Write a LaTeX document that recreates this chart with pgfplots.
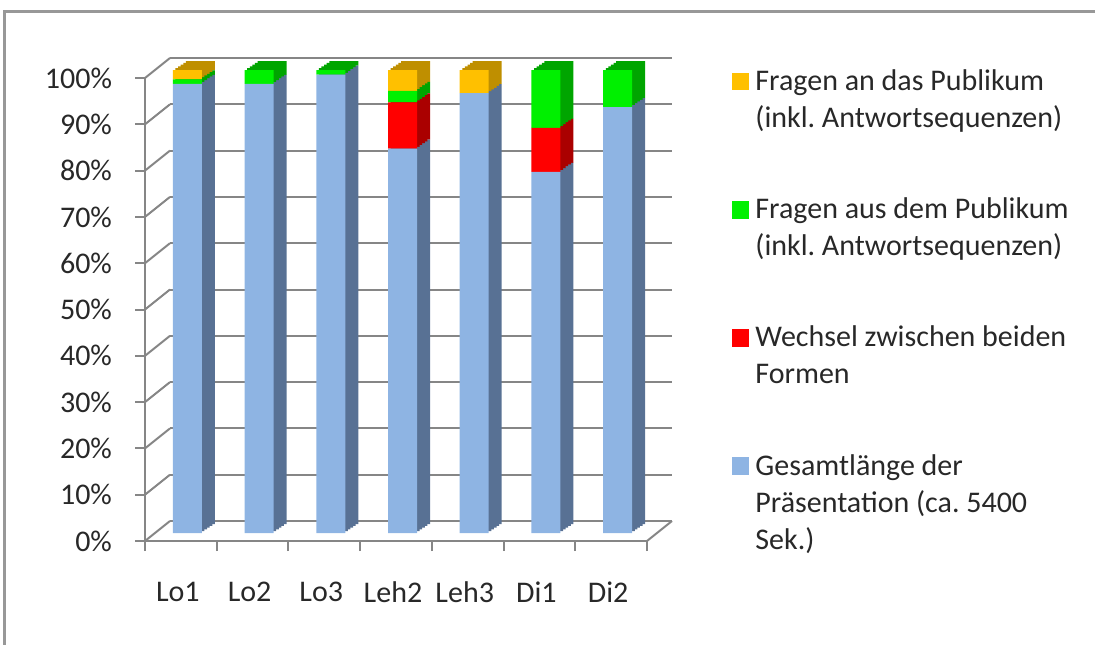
\documentclass[border=0pt]{standalone}
\usepackage{pgfplots}
\pgfplotsset{compat=1.18}
\usepackage{pgfplotstable}
\usepackage{fontspec}
\setmainfont{Carlito}
\frenchspacing

\definecolor{cBlue}{RGB}{142,180,227}
\definecolor{cBlueD}{RGB}{88,113,148}
\definecolor{cRed}{RGB}{255,0,0}
\definecolor{cRedD}{RGB}{170,0,0}
\definecolor{cGreen}{RGB}{0,240,0}
\definecolor{cGreenD}{RGB}{0,165,0}
\definecolor{cYel}{RGB}{255,192,0}
\definecolor{cYelD}{RGB}{191,143,0}
\definecolor{cGrid}{RGB}{134,134,134}
\definecolor{cText}{RGB}{40,40,40}

\pgfplotstableread{
x blue red green yellow
0 97 0 1 2
1 97 0 3 0
2 99 0 1 0
3 83 10 2.5 4.5
4 95 0 0 5
5 78 9.5 12.5 0
6 92 0 8 0
}\datatable

\pgfplotsset{
  base/.style={width=251pt,height=231.5pt,scale only axis,anchor=south west,
    xmin=-0.5,xmax=6.5,ymin=0,ymax=100,clip=false},
  bars/.style={base,hide axis,ybar stacked,bar width=14.5pt}
}

\newcommand\layer[2]{%
\begin{axis}[bars,at={(75.75pt+#1,55.5pt+#2)}]
\addplot[fill=cBlueD,draw=none] table[x=x,y=blue]{\datatable};
\addplot[fill=cRedD,draw=none] table[x=x,y=red]{\datatable};
\addplot[fill=cGreenD,draw=none] table[x=x,y=green]{\datatable};
\addplot[fill=cYelD,draw=none] table[x=x,y=yellow]{\datatable};
\end{axis}}

\begin{document}
\begin{tikzpicture}[font=\fontsize{15}{18.5}\selectfont]
\useasboundingbox (0,0) rectangle (547.5pt,322pt);
\draw[cGrid!85,line width=1.5pt] (2.3pt,-2pt) -- (2.3pt,316pt) -- (560pt,316pt);

\begin{axis}[base,at={(72.5pt,51.5pt)},
  axis x line*=bottom, axis y line*=left,
  axis line style={cGrid,line width=1pt,-},
  ytick={0,10,...,100},
  yticklabels={0\%,10\%,20\%,30\%,40\%,50\%,60\%,70\%,80\%,90\%,100\%},
  xtick={0,...,6},
  xticklabels={Lo1,Lo2,Lo3,Leh2,Leh3,Di1,Di2},
  minor xtick={-0.5,0.5,...,6.5},
  major x tick style={draw=none},
  tick align=outside, major tick length=5pt, minor tick length=5pt,
  tick style={cGrid,line width=1pt},
  ymajorgrids,
  grid style={cGrid,line width=1pt,xshift=12.5pt,yshift=10pt},
  tick label style={text=cText},
  yticklabel style={xshift=-8pt},
  xticklabel style={yshift=-12pt,xshift=-1.5pt},
]
\pgfplotsinvokeforeach{0,10,...,100}{
  \draw[cGrid,line width=1pt] (axis cs:-0.5,#1) -- ++(12.5pt,10pt);
}
\draw[cGrid,line width=1pt] (axis cs:6.5,0) -- ++(12.5pt,10pt);
\end{axis}

\layer{6.5pt}{4.5pt}
\layer{5.2pt}{3.6pt}
\layer{3.9pt}{2.7pt}
\layer{2.6pt}{1.8pt}
\layer{1.3pt}{0.9pt}

\begin{axis}[bars,at={(75.75pt,55.5pt)},
  reverse legend,
  legend style={draw=none,fill=none,at={(1.156,1.006)},anchor=north west,
    text=cText,row sep=50.2pt,inner sep=0pt,
    nodes={inner sep=1pt}},
  legend cell align=left,
  legend image code/.code={\fill[#1] (0pt,-4.4pt) rectangle (8.6pt,4.4pt);},
]
\addplot[fill=cBlue,draw=none] table[x=x,y=blue]{\datatable};
\addlegendentry{\hspace{2pt}\parbox[t]{180pt}{Gesamtlänge der\\Präsentation (ca. 5400\\Sek.)}}
\addplot[fill=cRed,draw=none] table[x=x,y=red]{\datatable};
\addlegendentry{\hspace{2pt}\parbox[t]{180pt}{Wechsel zwischen beiden\\Formen}}
\addplot[fill=cGreen,draw=none] table[x=x,y=green]{\datatable};
\addlegendentry{\hspace{2pt}\parbox[t]{180pt}{Fragen aus dem Publikum\\(inkl. Antwortsequenzen)}}
\addplot[fill=cYel,draw=none] table[x=x,y=yellow]{\datatable};
\addlegendentry{\hspace{2pt}\parbox[t]{180pt}{Fragen an das Publikum\\(inkl. Antwortsequenzen)}}
\end{axis}
\end{tikzpicture}
\end{document}
